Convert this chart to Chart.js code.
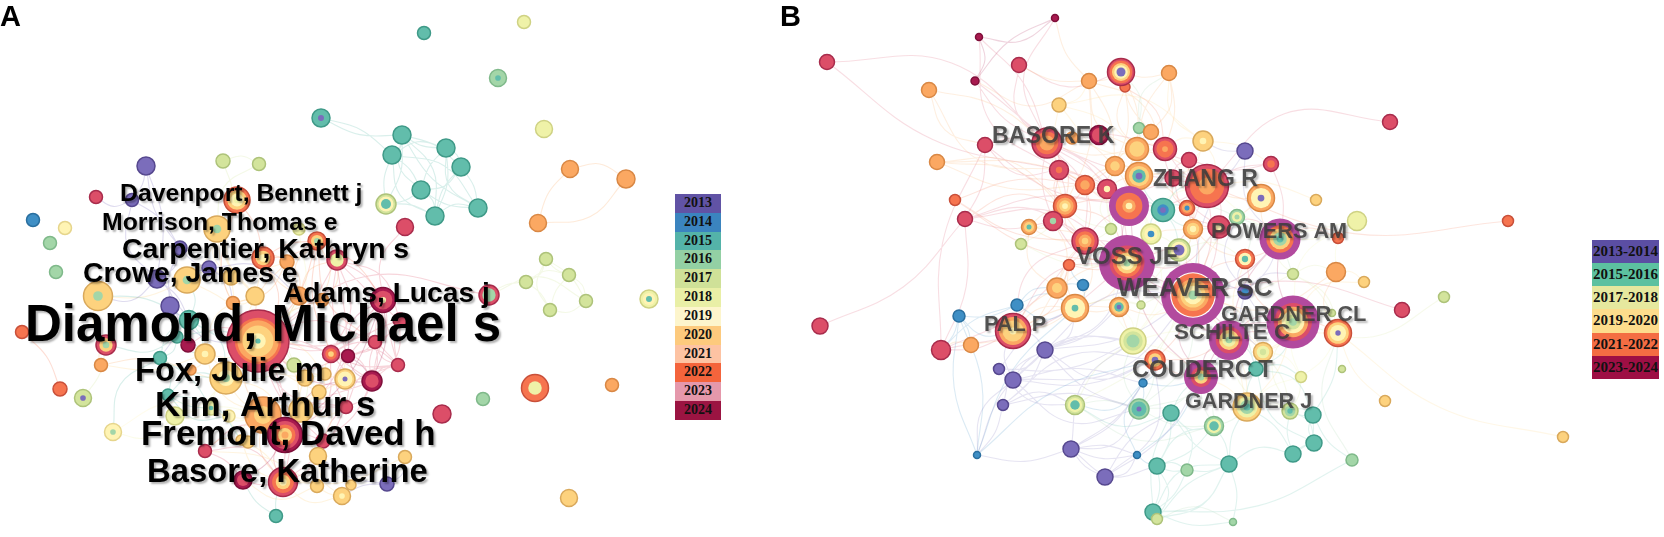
<!DOCTYPE html>
<html>
<head>
<meta charset="utf-8">
<title>Co-authorship networks</title>
<script src="https://cdn.jsdelivr.net/npm/chart.js@4"></script>
<style>
    body { margin: 0; background: #fff; width: 1664px; height: 537px; position: relative; overflow: hidden; }
    canvas { position: absolute; top: 0; }
    #chart-a { left: 0; }
    #chart-b { left: 760px; }
    .panel-tag { position: absolute; font: bold 29px "Liberation Sans", sans-serif; color: #000; line-height: 1; }
    .year-key { position: absolute; font: bold 14px "Liberation Serif", serif; color: #111; text-align: center; }
    #key-b { font-size: 15px; }
</style>
</head>
<body>
<canvas id="chart-a" width="660" height="537"></canvas>
<canvas id="chart-b" width="840" height="537"></canvas>
<div class="panel-tag" style="left:0;top:2px">A</div>
<div class="panel-tag" style="left:780px;top:2px">B</div>
<div class="year-key" id="key-a" style="left:675px;top:194px;width:46px"></div>
<div class="year-key" id="key-b" style="left:1592px;top:240px;width:67px"></div>
<script>
// ring colours: 0-11 = 2013..2024, 12 = burst halo, 13 = sigma ring
const ringColors = ['#7b6dbb', '#3f8fc5', '#62bdab', '#a3d6a8', '#d3e49c', '#eff2a8', '#fff4b4', '#fdd27e',
    '#fba862', '#f6744f', '#dc4e68', '#a81a4f', '#b24a9e', '#ffffff'];
const ringEdges = ['#56488f', '#2a6f9f', '#3f9a88', '#7fb98a', '#aec37a', '#cfd284', '#e6d58c', '#d9a95c',
    '#d98845', '#c9503a', '#a82c4c', '#7f0f3a', '#b24a9e', '#ffffff'];

const keyAYears = ['2013', '2014', '2015', '2016', '2017', '2018', '2019', '2020', '2021', '2022', '2023', '2024'];
const keyAColors = ['#6153a5', '#3b84bf', '#54b3a9', '#93d0a4', '#cfe198', '#e9efa6', '#fdf5cc', '#fdca7d',
    '#fdc3a3', '#f4643c', '#e598ab', '#9b1442'];
const keyBYears = ['2013-2014', '2015-2016', '2017-2018', '2019-2020', '2021-2022', '2023-2024'];
const keyBColors = ['#5b4ea3', '#5cc1a0', '#e6e89e', '#fddc8c', '#f46d43', '#9e0f44'];

// panel A
const aX = [321, 402, 392, 146, 223, 259, 96, 33, 65, 50,
    132, 237, 386, 217, 299, 405, 317, 180, 263, 287,
    337, 56, 157, 209, 187, 231, 98, 255, 299, 322,
    383, 170, 233, 189, 258, 22, 177, 106, 188, 375,
    400, 331, 348, 205, 160, 101, 398, 294, 191, 226,
    305, 325, 345, 372, 60, 83, 319, 168, 346, 211,
    175, 229, 263, 301, 113, 285, 241, 248, 323, 205,
    318, 405, 243, 283, 351, 387, 317, 342, 276, 424,
    524, 498, 544, 446, 461, 421, 435, 478, 570, 626,
    538, 489, 546, 526, 569, 586, 550, 649, 535, 612,
    483, 442, 569];
const aY = [118, 135, 155, 166, 161, 164, 197, 220, 228, 243,
    200, 200, 204, 229, 229, 227, 241, 248, 258, 262,
    260, 272, 279, 268, 280, 277, 296, 296, 296, 300,
    300, 306, 303, 320, 341, 332, 337, 345, 345, 342,
    320, 354, 356, 354, 358, 365, 365, 365, 370, 378,
    378, 374, 379, 381, 389, 398, 392, 395, 407, 408,
    416, 416, 415, 410, 432, 435, 440, 442, 441, 451,
    456, 457, 480, 482, 485, 484, 486, 496, 516, 33,
    22, 78, 129, 148, 167, 190, 216, 208, 169, 179,
    223, 295, 259, 282, 275, 301, 310, 299, 388, 385,
    399, 414, 498];
const aSize = [9, 9, 9, 9, 7, 6.5, 6.5, 6.5, 6.5, 6.5,
    6.5, 13, 10, 13, 6, 8.5, 9, 7, 11, 7,
    10, 6.5, 9, 7, 13, 8, 14.5, 9, 9, 6.5,
    12.5, 9, 6.5, 9.5, 31, 6.5, 6, 10, 7, 6.5,
    7, 8.5, 6.5, 10, 6.5, 6.5, 6.5, 7, 5, 16,
    8, 6, 10, 10, 7, 8.5, 7, 6, 6.5, 7,
    9, 6, 18, 12, 8.5, 17.5, 5, 6, 7, 6.5,
    8.5, 6.5, 9, 14.5, 5, 7, 6.5, 8.5, 6.5, 6.5,
    6.5, 8.5, 8.5, 9, 9, 9, 9, 9, 8.5, 9,
    8.5, 10, 6.5, 6.5, 6.5, 6.5, 6.5, 9, 13.5, 6.5,
    6.5, 9, 8.5];
const aRings = [[2, 2, 0], [2], [2], [0], [4], [4], [10], [1], [6], [3],
    [0], [9, 7, 6, 5], [4, 6, 2, 2], [7, 7, 3], [5], [10], [9, 7, 3], [0], [9, 7, 6], [8],
    [10, 5, 5], [3], [0], [0], [7, 7, 3], [7], [7, 7, 3], [7], [8], [8],
    [11, 10, 10, 6], [0], [8], [2, 2, 1], [10, 10, 10, 9, 8, 8, 7, 7, 7, 6, 6, 2], [9], [2], [10, 7, 3], [11], [10],
    [10], [10, 9, 7], [11], [7, 7, 6], [2], [8], [10], [4], [8], [7, 7, 6, 3],
    [7], [7], [7, 6, 6, 0], [11, 10, 10], [9], [4, 4, 0], [7], [2], [10], [5, 5, 2],
    [5], [6], [8, 8, 7, 7], [7], [6, 6, 3], [11, 10, 9, 7, 8], [7], [7], [10], [10],
    [7], [7], [11, 10, 10], [10, 9, 7, 6], [7], [0], [7], [7, 7, 6], [2], [2],
    [5], [3, 3, 2], [5], [2], [2], [2], [2], [2], [8], [8],
    [8], [10, 3, 3], [4], [4], [4], [4], [4], [5, 6, 2], [9, 5], [8],
    [3], [10], [7]];
// each row: a node, then the nodes it links to
const aLinks = [[1, 2, 83, 84, 85, 86, 87, 12, 0], [2, 83, 85, 86, 87, 12, 0], [83, 84, 85, 86, 87], [84, 85, 86, 87],
    [85, 86, 87, 12], [86, 87, 12], [88, 89, 90], [89, 90], [92, 93, 94, 95, 96], [93, 94, 96, 91], [94, 95, 96],
    [95, 96, 91], [4, 5, 13], [5, 13], [3, 10, 17, 22], [10, 22, 17], [17, 22, 31, 33, 23], [22, 31, 33],
    [31, 33, 36, 44], [35, 54], [34, 11, 13, 16, 18, 19, 20, 24, 25, 27, 28, 29, 30, 31, 33, 36, 38, 39, 40, 41, 42,
        43, 46, 47, 49, 50, 51, 52, 53, 56, 58, 62, 63, 65, 68, 73, 91, 14],
    [30, 20, 16, 39, 40, 41, 42, 53, 46, 65, 15], [53, 39, 40, 41, 42, 46, 58, 65, 68, 73],
    [65, 62, 63, 68, 69, 70, 72, 73, 58, 52, 56, 49, 41], [73, 72, 69, 76, 77, 71, 62, 66, 67],
    [62, 49, 50, 60, 59, 61, 63, 43, 66], [20, 16, 41, 42, 29, 28, 65], [49, 43, 44, 33, 59, 60, 57, 48, 47, 50],
    [44, 36, 57, 33, 59, 64], [36, 33, 43], [13, 11, 25, 27, 24], [26, 24, 33, 22], [11, 18, 25, 27], [18, 16, 19, 28],
    [40, 39, 41, 42, 53, 46, 20], [46, 39, 41, 42, 58, 20], [39, 41, 42, 53, 16], [41, 42, 58, 16, 51], [42, 53, 52, 58],
    [58, 68, 73, 63], [68, 70, 73, 56], [63, 50, 51, 56, 47], [47, 50, 51, 28], [16, 18, 28, 29, 19], [19, 27, 28, 32],
    [27, 32, 25, 43], [43, 48, 33, 36], [57, 59, 61, 66], [59, 61, 66, 60], [64, 61, 60], [69, 66, 72, 76], [72, 76, 78],
    [77, 76, 70], [78, 73], [75, 70, 77, 71], [37, 33, 26, 45], [45, 43, 48], [55, 37], [6, 10], [24, 25, 33, 23], [23, 25, 32, 28]];
const aNames = ['Diamond, Michael s', 'Davenport, Bennett j', 'Morrison, Thomas e', 'Carpentier, Kathryn s',
    'Crowe, James e', 'Adams, Lucas j', 'Fox, Julie m', 'Kim, Arthur s', 'Fremont, Daved h', 'Basore, Katherine'];
const aNameX = [25, 120, 102, 122, 83, 283, 135, 155, 141, 147];
const aNameY = [327, 194, 223, 250, 274, 294, 372, 406, 435, 473];
const aNameSize = [51, 24.8, 24.8, 28.4, 28.4, 28.2, 32.7, 34.8, 34.9, 32.8];

// panel B
const bX = [1055, 979, 975, 827, 1019, 929, 1089, 1059, 1047, 985,
    1072, 1099, 937, 1059, 1085, 955, 965, 1065, 1053, 1029,
    1021, 1085, 1125, 1121, 1139, 1151, 1137, 1165, 1203, 1189,
    1245, 1271, 1390, 1115, 1139, 1107, 1207, 1173, 1261, 1129,
    1163, 1187, 1316, 1357, 1237, 1219, 1193, 1111, 1151, 1280,
    1338, 1179, 1245, 1127, 1083, 1193, 1245, 1293, 1336, 1364,
    1119, 1141, 1075, 1293, 1332, 1402, 1338, 1229, 1263, 1133,
    1155, 1201, 1256, 1301, 1342, 1385, 1139, 1171, 1247, 1290,
    1313, 1214, 1143, 1314, 1293, 1352, 1137, 1229, 1157, 1187,
    1105, 1153, 1157, 1233, 820, 941, 971, 959, 1017, 1057,
    1069, 1013, 1045, 999, 1013, 1003, 1075, 977, 1071, 1508,
    1444, 1563, 1169];
const bY = [18, 37, 81, 62, 65, 90, 81, 105, 143, 145,
    138, 135, 162, 170, 185, 200, 219, 206, 221, 227,
    244, 241, 87, 72, 128, 132, 149, 149, 141, 160,
    151, 164, 122, 166, 176, 189, 186, 178, 198, 206,
    210, 208, 200, 221, 217, 227, 229, 229, 234, 239,
    238, 250, 259, 263, 285, 295, 292, 274, 272, 282,
    307, 305, 308, 322, 313, 310, 333, 340, 352, 341,
    360, 377, 369, 377, 369, 401, 409, 413, 407, 411,
    415, 426, 383, 443, 454, 460, 455, 464, 466, 470,
    477, 512, 519, 522, 326, 350, 345, 316, 305, 288,
    265, 331, 350, 369, 380, 405, 405, 455, 449, 221,
    297, 437, 73];
const bSize = [3.5, 3.5, 4, 7.5, 7.5, 7.5, 7.5, 7, 15, 7.5,
    6, 9.5, 7.5, 9.5, 9.5, 5.5, 7.5, 11.5, 9.5, 7.5,
    5.5, 13, 5, 13.5, 5.5, 7.5, 11.5, 11.5, 10, 7.5,
    8, 7.5, 7.5, 9.5, 13.5, 9.5, 21.5, 8, 13.5, 20,
    11.5, 7.5, 5.5, 9.5, 7.5, 11, 9.5, 5.5, 10, 20.5,
    5.5, 11, 9.5, 28, 5.5, 32, 7, 5.5, 9.5, 5.5,
    9.5, 4, 13.5, 26.5, 3.5, 7.5, 13.5, 20, 9.5, 13,
    10, 17, 7, 5.5, 3.5, 5.5, 10, 8, 14, 8,
    8, 9.5, 4, 8, 8, 6, 3.5, 8, 8, 6,
    8, 8, 5.5, 3.5, 8, 9.5, 7.5, 6, 6, 10,
    5.5, 17.5, 8, 5.5, 8, 5.5, 9.5, 3.5, 8, 5.5,
    5.5, 5.5, 7.5];
const bRings = [[11], [11], [11], [10], [10], [8], [8], [7], [10, 9, 8, 8], [10],
    [8], [11, 10, 10, 10], [8], [10, 10, 9], [9, 8], [9], [10], [9, 8, 7, 6], [10, 10, 3], [8, 7, 2],
    [4], [10, 9, 8, 7], [9], [10, 9, 7, 6, 0, 0], [3], [8], [8, 7, 7], [10, 9, 9, 8], [7, 7, 6], [10],
    [0], [10, 9], [10], [8, 7], [8, 7, 2, 0], [10, 10, 6], [10, 9, 9, 8, 8], [10], [8, 6, 6, 0], [12, 12, 9, 9, 8, 6],
    [2, 2, 1, 0], [9, 8, 1], [7], [5], [3, 5, 3], [10, 10, 6], [8, 7, 6], [4], [5, 6, 1], [12, 12, 9, 7, 3, 2],
    [9], [4, 6, 0, 0], [9, 6, 2], [12, 12, 12, 10, 9, 7, 6, 3], [1],
    [12, 12, 12, 12, 12, 12, 12, 12, 13, 9, 9, 9, 9, 9, 8, 8, 8, 7, 7, 7, 6, 6, 6, 6, 3, 3, 3, 3],
    [0, 1], [4], [8], [7],
    [8, 7, 2, 0], [4], [8, 6, 6, 2], [12, 12, 10, 8, 6, 4, 3], [4], [10], [9, 7, 6, 6, 0], [12, 12, 10, 7, 5, 3], [7, 5, 4], [5, 4, 3, 3],
    [9, 7, 0], [12, 12, 10, 7, 3], [2], [5], [4], [7], [3, 2, 2, 0], [2], [7, 5, 3, 2], [4, 3, 2],
    [2], [3, 5, 2, 2], [1], [2], [2], [3], [1], [2], [2], [3],
    [0], [2], [4], [3], [10], [10], [8], [1], [1], [8, 7],
    [9], [10, 8, 7, 7, 6], [0], [0], [0], [0], [4, 5, 2, 2], [1], [0], [9],
    [4], [7], [8]];
const bLinks = [[0, 1, 2, 8, 6], [1, 2, 8, 13], [2, 6, 36, 8], [3, 8, 13], [4, 6, 8], [5, 8, 9, 13], [6, 7, 27, 33, 26, 17],
    [9, 8, 13, 16, 95, 39], [12, 17, 21, 39, 14], [15, 14, 21, 53], [16, 39, 53, 21, 17, 95, 18],
    [95, 96, 101, 97, 98, 53, 21], [94, 16], [32, 36], [65, 55], [110, 63], [111, 66], [109, 36], [42, 36], [43, 63, 36],
    [58, 55], [59, 63], [75, 66], [8, 13, 14, 17, 18, 21, 26, 27, 33, 35, 39, 53],
    [36, 26, 27, 28, 29, 34, 37, 39, 40, 41, 45, 46, 48, 53, 55, 31, 30, 38],
    [39, 13, 14, 17, 21, 26, 33, 34, 35, 40, 47, 53, 55, 48],
    [53, 21, 17, 18, 19, 20, 35, 46, 48, 51, 45, 55, 60, 62, 99, 100, 101, 102, 69, 67, 71],
    [55, 45, 46, 49, 51, 52, 56, 57, 60, 61, 63, 67, 68, 69, 70, 71, 72, 78, 41, 44, 38, 30, 102, 104, 106, 76],
    [49, 38, 45, 44, 52, 56, 57, 63, 67, 50, 43, 31, 30], [63, 56, 67, 68, 71, 72, 73, 78, 79, 66, 64, 52],
    [67, 71, 68, 72, 78, 79, 81, 69, 70, 76], [71, 70, 76, 77, 78, 81, 82, 69, 86, 90],
    [102, 104, 103, 105, 69, 70, 55, 76, 62], [104, 69, 70, 76, 101], [105, 70, 76, 106, 102], [108, 76, 70, 82, 86, 69],
    [103, 62, 69], [90, 86, 77, 70], [107, 105, 97, 104, 102, 70, 62], [77, 88, 91, 81, 87, 106], [87, 78, 81, 84, 91, 92],
    [84, 80, 83, 78, 79], [83, 80, 79, 72], [80, 72, 79, 66], [88, 91, 89, 81], [91, 89, 87, 93, 85], [85, 66, 80], [93, 87], [92, 88],
    [7, 28, 26, 27, 17], [22, 26, 27, 33], [23, 22, 26, 25, 24, 6, 4], [112, 23, 25, 28, 24, 27, 26],
    [13, 14, 17, 18, 21, 33, 35], [14, 17, 21, 33, 35, 47], [17, 18, 19, 20, 21, 47], [18, 19, 20, 21, 99], [19, 20, 21, 99],
    [21, 47, 99, 100, 62, 101], [100, 99, 62, 54, 101], [99, 54, 62, 101, 96], [62, 54, 101, 60, 61, 98], [33, 34, 26, 35, 47],
    [35, 34, 37, 48, 47], [26, 27, 24, 25, 34], [27, 37, 28, 29], [28, 29, 37, 30, 31], [29, 31, 37, 45], [34, 37, 40, 41, 48],
    [37, 45, 46, 41], [40, 41, 48, 46, 51], [41, 46, 45, 44], [46, 51, 52, 44], [48, 51, 69, 60], [51, 52, 70, 69], [52, 56, 44, 68],
    [44, 45, 56, 57], [56, 57, 68, 71], [57, 58, 66, 64], [58, 66, 59, 43], [66, 64, 68, 73], [68, 73, 79, 72], [72, 73, 78],
    [78, 79, 81, 73], [79, 80, 73], [81, 76, 88, 106], [76, 106, 69, 82, 70], [106, 82, 103, 69], [82, 86, 70, 104], [86, 88, 108],
    [98, 62, 97, 99], [97, 96, 101, 107], [101, 102, 62, 60], [60, 69, 61, 70], [69, 70], [102, 69, 60, 103], [108, 90, 88, 107],
    [92, 91, 87, 93], [89, 87, 88, 77]];
const bNames = ['BASORE K', 'ZHANG R', 'POWERS AM', 'VOSS JE', 'WEAVER SC', 'GARDNER CL', 'SCHILTE C', 'PAL P', 'COUDERC T', 'GARDNER J'];
const bNameX = [992, 1153, 1211, 1076, 1117, 1221, 1174, 984, 1132, 1185];
const bNameY = [137, 180, 232, 257, 289, 315, 333, 325, 370, 402];
const bNameSize = [23.2, 23, 21.7, 24, 26, 21.8, 22.3, 21.7, 23.7, 21.6];

function hexToRgba(hex, alpha) {
    const n = parseInt(hex.slice(1), 16);
    return `rgba(${n >> 16}, ${(n >> 8) & 255}, ${n & 255}, ${alpha})`;
}

// one bubble per ring, outermost first, so every node paints over the ones before it
function buildRings(xs, ys, sizes, rings) {
    const data = [];
    const fill = [];
    const border = [];
    const widths = [];
    xs.forEach((x, i) => {
        const list = rings[i];
        list.forEach((c, k) => {
            if (k > 0 && list[k - 1] === c) return;
            data.push({ x, y: ys[i], r: sizes[i] * (list.length - k) / list.length });
            fill.push(ringColors[c]);
            border.push(ringEdges[c]);
            widths.push(k === 0 && c !== 12 ? 1.5 : 0);
        });
    });
    return { type: 'bubble', data, backgroundColor: fill, borderColor: border, borderWidth: widths, order: 0 };
}

// links grouped per colour, each one bent a little to one side
function buildLinks(xs, ys, rings, links, alpha) {
    const bends = [0.22, -0.18, 0.1, -0.1];
    const groups = {};
    links.forEach(row => {
        row.slice(1).forEach(to => {
            const from = row[0];
            const age = Math.min(Math.min(rings[from][0], 11), Math.min(rings[to][0], 11));
            const dx = xs[to] - xs[from];
            const dy = ys[to] - ys[from];
            const bend = bends[(from * 3 + to) % 4];
            if (!groups[age]) groups[age] = [];
            groups[age].push(
                { x: xs[from], y: ys[from] },
                { x: (xs[from] + xs[to]) / 2 - dy * bend, y: (ys[from] + ys[to]) / 2 + dx * bend },
                { x: xs[to], y: ys[to] },
                { x: NaN, y: NaN }
            );
        });
    });
    return Object.keys(groups).map(age => ({
        type: 'line',
        data: groups[age],
        borderColor: hexToRgba(ringColors[age], alpha),
        borderWidth: 1.1,
        tension: 0.4,
        pointRadius: 0,
        spanGaps: false,
        order: 5
    }));
}

function namesPlugin(names, xs, ys, sizes, color, shadow) {
    return {
        id: 'names',
        afterDatasetsDraw(chart) {
            const ctx = chart.ctx;
            ctx.save();
            ctx.textBaseline = 'middle';
            names.forEach((name, i) => {
                ctx.font = `bold ${sizes[i]}px "Liberation Sans", Arial, sans-serif`;
                ctx.fillStyle = color;
                ctx.shadowColor = shadow;
                ctx.shadowOffsetX = 2;
                ctx.shadowOffsetY = 2;
                ctx.shadowBlur = 2;
                ctx.fillText(name, chart.scales.x.getPixelForValue(xs[i]), chart.scales.y.getPixelForValue(ys[i]));
            });
            ctx.restore();
        }
    };
}

function renderPanel(id, minX, maxX, xs, ys, sizes, rings, links, alpha, plugin) {
    new Chart(document.getElementById(id), {
        data: { datasets: [...buildLinks(xs, ys, rings, links, alpha), buildRings(xs, ys, sizes, rings)] },
        options: {
            responsive: false,
            animation: false,
            devicePixelRatio: 1,
            layout: { padding: 0, autoPadding: false },
            plugins: { legend: { display: false }, tooltip: { enabled: false } },
            scales: {
                x: { type: 'linear', display: false, min: minX, max: maxX },
                y: { type: 'linear', display: false, min: 0, max: 537, reverse: true }
            }
        },
        plugins: [plugin]
    });
}

function renderKey(id, years, colors, rowHeight) {
    document.getElementById(id).innerHTML = years.map((year, i) =>
        `<div style="background:${colors[i]};height:${rowHeight}px;line-height:${rowHeight}px">${year}</div>`
    ).join('');
}

renderPanel('chart-a', 0, 660, aX, aY, aSize, aRings, aLinks, 0.24,
    namesPlugin(aNames, aNameX, aNameY, aNameSize, '#000', 'rgba(0, 0, 0, 0.3)'));
renderPanel('chart-b', 760, 1600, bX, bY, bSize, bRings, bLinks, 0.19,
    namesPlugin(bNames, bNameX, bNameY, bNameSize, 'rgba(60, 60, 60, 0.88)', 'rgba(0, 0, 0, 0.3)'));
renderKey('key-a', keyAYears, keyAColors, 18.83);
renderKey('key-b', keyBYears, keyBColors, 23.17);
</script>
</body>
</html>
